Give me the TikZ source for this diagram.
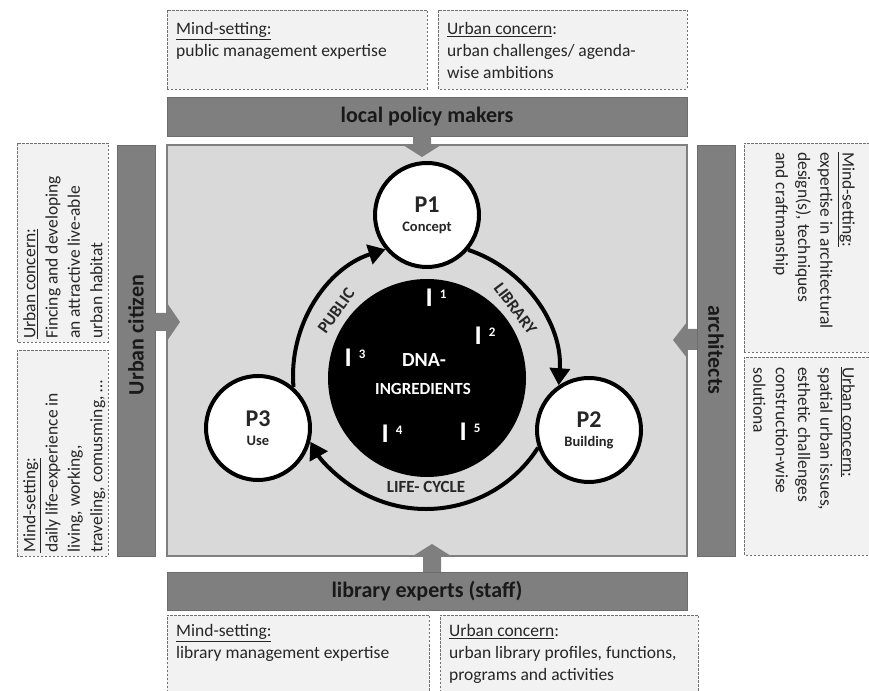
\documentclass[tikz,border=0pt]{standalone}
\usepackage{fontspec}
\setmainfont{Carlito}
\usetikzlibrary{arrows.meta,calc}
\definecolor{bargray}{HTML}{7F7F7F}
\definecolor{panel}{HTML}{D9D9D9}
\definecolor{boxfill}{HTML}{F2F2F2}
\definecolor{boxline}{HTML}{707070}
\definecolor{txt}{HTML}{262626}
\begin{document}
\begin{tikzpicture}[x=1pt,y=1pt,
  infobox/.style={draw=boxline, fill=boxfill, dash pattern=on 2.5pt off 1.5pt, line width=0.9pt},
  bar/.style={fill=bargray, draw=bargray!85!black, line width=0.8pt, inner sep=0pt},
  bartext/.style={font=\fontsize{22}{26}\selectfont\bfseries, text=black!90},
  infotext/.style={font=\fontsize{17.5}{22.3}\selectfont, text=txt, align=left, inner sep=0pt},
  pnode/.style={circle, draw=black, line width=4pt, fill=white, minimum size=104pt, inner sep=0pt, align=center, text=txt},
  cyc/.style={line width=4pt, -{Triangle[length=17pt,width=20pt]}},
  arclabel/.style={font=\fontsize{17}{17}\selectfont\bfseries, text=txt, inner sep=0pt},
  ing/.style={font=\fontsize{27}{27}\selectfont\bfseries, text=white, inner sep=0pt},
  blockarrow/.style={fill=bargray, draw=none},
]
\useasboundingbox (0,0) rectangle (869,690);
% central panel
\node[fill=panel, draw=bargray, line width=1.2pt, minimum width=520pt, minimum height=411pt, inner sep=0pt] (panel) at (427,339.5) {};
% bars
\node[bar, minimum width=520pt, minimum height=39pt, bartext] (top) at (427,573.5) {local policy makers};
\node[bar, minimum width=520pt, minimum height=38pt, bartext] (bottom) at (427,99) {library experts (staff)};
\node[bar, minimum width=38pt, minimum height=411pt] (left) at (136,339.5) {};
\node[bar, minimum width=38pt, minimum height=411pt] (right) at (716,339.5) {};
\node[bartext, rotate=90] (lefttext) at (136,355) {Urban citizen};
\node[bartext, rotate=-90] (righttext) at (716,340) {architects};
% block arrows
\fill[blockarrow] (413,554) -- (431,554) -- (431,545) -- (441,545) -- (422,533) -- (403,545) -- (413,545) -- cycle;
\fill[blockarrow] (423,118) -- (441,118) -- (441,134) -- (451,134) -- (432,146) -- (413,134) -- (423,134) -- cycle;
\fill[blockarrow] (155,359) -- (167,359) -- (167,349) -- (180,368) -- (167,387) -- (167,377) -- (155,377) -- cycle;
\fill[blockarrow] (697,340) -- (687,340) -- (687,332) -- (673,350) -- (687,368) -- (687,361) -- (697,361) -- cycle;
% dashed info boxes
\draw[infobox] (167,601) rectangle (427,680);
\draw[infobox] (438,601) rectangle (687,680);
\draw[infobox] (167,-10) rectangle (429,75);
\draw[infobox] (440,-10) rectangle (698,75);
\draw[infobox] (17,348) rectangle (108,547);
\draw[infobox] (17,134) rectangle (108,340);
\draw[infobox] (744,338) rectangle (890,547);
\draw[infobox] (744,135) rectangle (890,333);
% info texts
\node[infotext, anchor=north west] (tl) at (176,668) {\underline{Mind-setting:}\\public management expertise};
\node[infotext, anchor=north west] (tr) at (447,668) {\underline{Urban concern}:\\urban challenges/ agenda-\\wise ambitions};
\node[infotext, anchor=north west] (bl) at (176,66) {\underline{Mind-setting:}\\library management expertise};
\node[infotext, anchor=north west] (br) at (449,66) {\underline{Urban concern}:\\urban library profiles, functions,\\programs and activities};
\node[infotext, rotate=90, anchor=north west] (lu) at (23,351) {\underline{Urban concern:}\\Fincing and developing\\an attractive live-able\\urban habitat};
\node[infotext, rotate=90, anchor=north west] (ll) at (23,137) {\underline{Mind-setting:}\\daily life-experience in\\living, working,\\traveling, comusming, …};
\node[infotext, rotate=-90, anchor=north west] (ru) at (855,538) {\underline{Mind-setting:}\\expertise in architectural\\design(s), techniques\\and craftmanship};
\node[infotext, rotate=-90, anchor=north west] (rl) at (855,323) {\underline{Urban concern:}\\spatial urban issues,\\esthetic challenges\\construction-wise\\solutiona};
% DNA circle
\node[circle, fill=black, minimum size=198pt, inner sep=0pt] (dna) at (427,312) {};
\node[font=\fontsize{20}{20}\selectfont\bfseries, text=white, inner sep=0pt] (dnat) at (424,330) {DNA-};
\node[font=\fontsize{17}{17}\selectfont\bfseries, text=white, inner sep=0pt] (ingt) at (423,301) {INGREDIENTS};
\node[ing] (i1) at (436,392) {I\hspace{7pt}\raisebox{8pt}{\fontsize{13}{13}\selectfont\bfseries 1}};
\node[ing] (i2) at (485,354) {I\hspace{7pt}\raisebox{8pt}{\fontsize{13}{13}\selectfont\bfseries 2}};
\node[ing] (i3) at (355,332) {I\hspace{7pt}\raisebox{8pt}{\fontsize{13}{13}\selectfont\bfseries 3}};
\node[ing] (i4) at (392,256) {I\hspace{7pt}\raisebox{8pt}{\fontsize{13}{13}\selectfont\bfseries 4}};
\node[ing] (i5) at (470,258) {I\hspace{7pt}\raisebox{8pt}{\fontsize{13}{13}\selectfont\bfseries 5}};
% process nodes
\node[pnode] (P1) at (427,475) {\fontsize{24}{26}\selectfont\bfseries P1\\[7pt]\fontsize{14.5}{15}\selectfont\bfseries Concept};
\node[pnode] (P2) at (589,260) {\fontsize{24}{26}\selectfont\bfseries P2\\[7pt]\fontsize{14.5}{15}\selectfont\bfseries Building};
\node[pnode] (P3) at (258,262) {\fontsize{24}{26}\selectfont\bfseries P3\\[7pt]\fontsize{14.5}{15}\selectfont\bfseries Use};
% cycle arcs
\coordinate (C) at (426,314);
\coordinate (s1) at ($(C)+(184.8:133pt)$);
\coordinate (s2) at ($(C)+(71.5:133pt)$);
\coordinate (s3) at ($(C)+(-32.6:133pt)$);
\draw[cyc] (s1) arc[start angle=184.8, end angle=107.7, radius=133pt];
\draw[cyc] (s2) arc[start angle=71.5, end angle=-4.0, radius=133pt];
\draw[cyc] (s3) arc[start angle=-32.6, end angle=-150.4, radius=133pt];
\node[arclabel, rotate=54] (lpub) at ($(C)+(144:111pt)$) {PUBLIC};
\node[arclabel, rotate=-53] (llib) at ($(C)+(37:112pt)$) {LIBRARY};
\node[arclabel] (llc) at ($(C)+(-90:111pt)$) {LIFE- CYCLE};
\end{tikzpicture}
\end{document}
